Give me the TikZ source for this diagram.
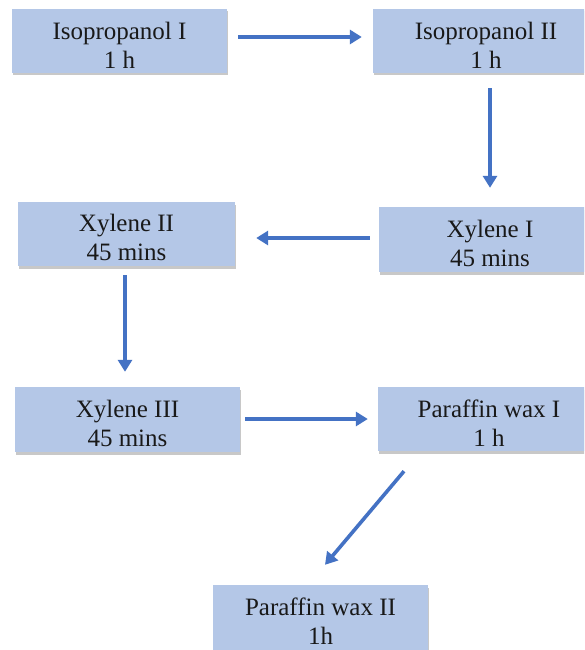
\documentclass[tikz,border=0pt]{standalone}
\usepackage{fontspec}
\setmainfont{Liberation Serif}
\usetikzlibrary{calc,shadows,arrows.meta}
\definecolor{boxblue}{HTML}{B4C7E7}
\definecolor{arrblue}{HTML}{4472C4}
\begin{document}
\begin{tikzpicture}[x=1pt,y=-1pt,
  box/.style={fill=boxblue, draw=none, inner sep=0pt, minimum height=64pt,
    drop shadow={shadow xshift=1pt, shadow yshift=-2.5pt, opacity=0.3, fill=black!70}},
  txt/.style={align=center, inner sep=0pt, text=black!90, font=\fontsize{25}{29}\selectfont},
  arr/.style={draw=arrblue, line width=3.6pt, -{Triangle[length=12pt,width=14pt]}}]
\useasboundingbox (0,0) rectangle (584,650);
\clip (0,0) rectangle (584,650);
\fill[white] (0,0) rectangle (584,650);
% boxes
\node[box, minimum width=215pt] (i1) at (119.5,41) {};
\node[box, minimum width=226pt] (i2) at (486,41) {};
\node[box, minimum width=222pt, minimum height=65pt] (x1) at (490,239.5) {};
\node[box, minimum width=217pt] (x2) at (126.5,234) {};
\node[box, minimum width=225pt, minimum height=65pt] (x3) at (127.5,419.5) {};
\node[box, minimum width=222pt] (p1) at (489,419) {};
\node[box, minimum width=215pt, minimum height=65pt] (p2) at (320.5,617.5) {};
% texts
\node[txt] (t1) at ([yshift=-4pt]i1.center) {Isopropanol I\\1 h};
\node[txt] (t2) at ([yshift=-4pt]i2.center) {Isopropanol II\\1 h};
\node[txt] (t3) at ([yshift=-4pt]x1.center) {Xylene I\\45 mins};
\node[txt] (t4) at ([yshift=-3pt]x2.center) {Xylene II\\45 mins};
\node[txt] (t5) at ([yshift=-4pt]x3.center) {Xylene III\\45 mins};
\node[txt] (t6) at ([yshift=-4pt]p1.center) {Paraffin wax I\\1 h};
\node[txt] (t7) at ([yshift=-4pt]p2.center) {Paraffin wax II\\1h};
% arrows
\draw[arr] ($(i1.east)+(11,-4)$) -- ($(i2.west)+(-11,-4)$);
\draw[arr] ($(i2.south)+(4,15)$) -- ($(x1.north)+(0,-19)$);
\draw[arr] ($(x1.west)+(-9,-1.5)$) -- ($(x2.east)+(21,4)$);
\draw[arr] ($(x2.south)+(-1.5,9)$) -- ($(x3.north)+(-2.5,-15)$);
\draw[arr] ($(x3.east)+(5,-0.5)$) -- ($(p1.west)+(-10,0)$);
\draw[arr] ($(p1.south)+(-85,20)$) -- ($(p2.north)+(4.5,-20)$);
\end{tikzpicture}
\end{document}
